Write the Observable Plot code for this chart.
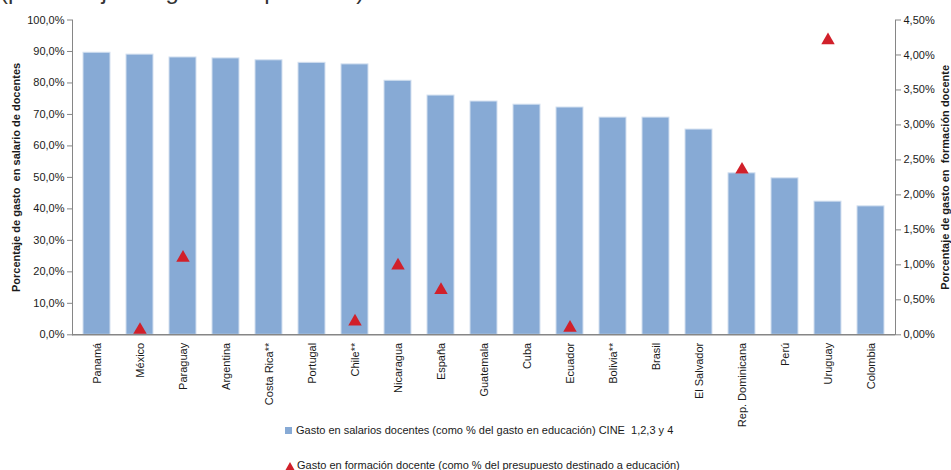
<!DOCTYPE html>
<html>
<head>
<meta charset="utf-8">
<script src="https://cdn.jsdelivr.net/npm/d3@7"></script>
<script src="https://cdn.jsdelivr.net/npm/@observablehq/plot@0.6"></script>
<style>
  html, body { margin: 0; padding: 0; background: #fff; }
  body { width: 951px; height: 470px; overflow: hidden; font-family: "Liberation Sans", Arial, sans-serif; color: #1a1a1a; }
  #wrap { position: relative; width: 951px; height: 470px; }
  #title { position: relative; height: 10px; overflow: hidden; }
  #title span { position: absolute; left: 0; top: -21px; font-size: 24px; line-height: 24px; white-space: nowrap; color: #333; }
  #chart svg { display: block; overflow: visible; }
  [aria-label="y-axis label"] { font-weight: bold; }
  .lg { position: absolute; left: 285px; font-size: 11px; line-height: 13px; white-space: nowrap; display: flex; align-items: center; }
  .lg svg { display: block; margin-right: 2px; }
</style>
</head>
<body>
<div id="wrap">
  <div id="title"><span>(porcentaje del gasto en personal)</span></div>
  <div id="chart"></div>
  <div id="legend"></div>
</div>
<script>
const countries = ["Panamá","México","Paraguay","Argentina","Costa Rica**","Portugal","Chile**","Nicaragua","España","Guatemala","Cuba","Ecuador","Bolivia**","Brasil","El Salvador","Rep. Dominicana","Perú","Uruguay","Colombia"];
const salaryPct = [89.6, 89.0, 88.1, 87.8, 87.2, 86.4, 85.9, 80.7, 76.0, 74.1, 73.1, 72.2, 69.0, 69.0, 65.2, 51.3, 49.7, 42.3, 40.8];
const trainingPct = [null, 0.07, 1.10, null, null, null, 0.19, 0.99, 0.64, null, null, 0.10, null, null, null, 2.36, null, 4.21, null];
const leftTicks = [0, 10, 20, 30, 40, 50, 60, 70, 80, 90, 100];
const rightTicks = [0, 0.5, 1, 1.5, 2, 2.5, 3, 3.5, 4, 4.5];
const seriesNames = [
  "Gasto en salarios docentes (como % del gasto en educación) CINE\u00a0 1,2,3 y 4",
  "Gasto en formación docente (como % del presupuesto destinado a educación)"
];
const leftTitle = "Porcentaje de gasto  en salario de docentes";
const rightTitle = "Porcentaje de gasto en  formación docente";

const barColor = "#87aad5";
const triColor = "#d1202a";
const k = 100 / 4.5;
const rows = countries.map((c, i) => ({country: c, salary: salaryPct[i], training: trainingPct[i]}));

const chart = Plot.plot({
  width: 951, height: 420,
  marginLeft: 72, marginRight: 56, marginTop: 9.5, marginBottom: 95.7,
  style: {fontFamily: "Liberation Sans, Arial, sans-serif", fontSize: "11px", color: "#1a1a1a", overflow: "visible"},
  x: {domain: countries, paddingInner: 0.38, paddingOuter: 0.19, label: null},
  y: {domain: [0, 100], label: null},
  marks: [
    Plot.barY(rows, {x: "country", y: "salary", fill: barColor, stroke: "#d3e0f0", strokeWidth: 1}),
    Plot.ruleY([0], {stroke: "#868686", strokeWidth: 1.5}),
    Plot.frame({anchor: "left", stroke: "#868686"}),
    Plot.frame({anchor: "right", stroke: "#868686"}),
    Plot.axisY(leftTicks, {anchor: "left", tickSize: 5, tickPadding: 3, stroke: "#868686",
      tickFormat: d => d.toFixed(1).replace(".", ",") + "%",
      label: leftTitle, labelAnchor: "center", labelOffset: 60, labelArrow: "none"}),
    Plot.axisY(rightTicks.map(v => v * k), {anchor: "right", tickSize: 5, tickPadding: 3, stroke: "#868686",
      tickFormat: d => (d / k).toFixed(2).replace(".", ",") + "%",
      label: rightTitle, labelAnchor: "center", labelOffset: 53, labelArrow: "none"}),
    Plot.axisX({tickRotate: -90, tickSize: 0, tickPadding: 8, label: null}),
    Plot.dot(rows.filter(d => d.training != null), {x: "country", y: d => d.training * k, symbol: "triangle", r: 5, fill: triColor, stroke: "none"})
  ]
});
document.getElementById("chart").appendChild(chart);

const legend = document.getElementById("legend");
const glyphs = [
  `<svg width="9" height="9"><rect x="0" y="1" width="7" height="7" fill="${barColor}"/></svg>`,
  `<svg width="10" height="10"><path d="M5,1 L9.5,9 L0.5,9 Z" fill="${triColor}"/></svg>`
];
const tops = [424, 459];
seriesNames.forEach((name, i) => {
  const div = document.createElement("div");
  div.className = "lg";
  div.style.top = tops[i] + "px";
  div.innerHTML = glyphs[i] + "<span></span>";
  div.querySelector("span").textContent = name;
  legend.appendChild(div);
});
</script>
</body>
</html>
